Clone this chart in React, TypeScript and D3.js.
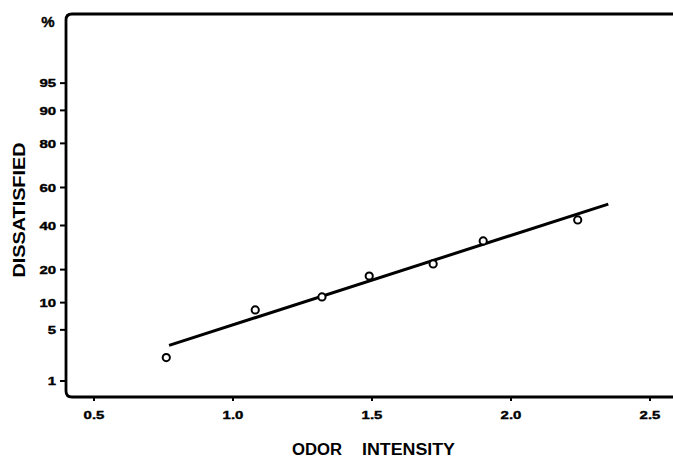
import React from "react";
import * as d3 from "d3";

const xTicks = [0.5, 1.0, 1.5, 2.0, 2.5];
const xTickLabels = ["0.5", "1.0", "1.5", "2.0", "2.5"];
const yTicks = [1, 5, 10, 20, 40, 60, 80, 90, 95];
const pointX = [0.76, 1.08, 1.32, 1.49, 1.72, 1.9, 2.24];
const pointPct = [2.2, 8.4, 11.4, 17.7, 22.2, 32.3, 42.9];
const lineX = [0.77, 2.35];
const linePct = [3.2, 51.3];

// inverse standard normal CDF (Acklam)
function probit(p: number): number {
  const a = [-3.969683028665376e1, 2.209460984245205e2, -2.759285104469687e2, 1.38357751867269e2, -3.066479806614716e1, 2.506628277459239];
  const b = [-5.447609879822406e1, 1.615858368580409e2, -1.556989798598866e2, 6.680131188771972e1, -1.328068155288572e1];
  const c = [-7.784894002430293e-3, -3.223964580411365e-1, -2.400758277161838, -2.549732539343734, 4.374664141464968, 2.938163982698783];
  const d = [7.784695709041462e-3, 3.224671290700398e-1, 2.445134137142996, 3.754408661907416];
  const pl = 0.02425;
  let q: number, r: number;
  if (p < pl) {
    q = Math.sqrt(-2 * Math.log(p));
    return (((((c[0] * q + c[1]) * q + c[2]) * q + c[3]) * q + c[4]) * q + c[5]) / ((((d[0] * q + d[1]) * q + d[2]) * q + d[3]) * q + 1);
  } else if (p <= 1 - pl) {
    q = p - 0.5;
    r = q * q;
    return ((((((a[0] * r + a[1]) * r + a[2]) * r + a[3]) * r + a[4]) * r + a[5]) * q) / (((((b[0] * r + b[1]) * r + b[2]) * r + b[3]) * r + b[4]) * r + 1);
  } else {
    q = Math.sqrt(-2 * Math.log(1 - p));
    return -(((((c[0] * q + c[1]) * q + c[2]) * q + c[3]) * q + c[4]) * q + c[5]) / ((((d[0] * q + d[1]) * q + d[2]) * q + d[3]) * q + 1);
  }
}

export default function App() {
  const W = 673, H = 462;
  const left = 66, top = 14, bottom = 397;
  const x = d3.scaleLinear().domain([0.4, 2.6]).range([66.2, 677.8]);
  const zScale = d3.scaleLinear().domain([-2.5, 2.5]).range([394, 19]);
  const y = (pct: number) => zScale(probit(pct / 100));
  const font = "'Liberation Sans', Arial, Helvetica, sans-serif";
  const r = 6;
  const frame = `M ${W} ${top} L ${left + r} ${top} Q ${left} ${top} ${left} ${top + r} L ${left} ${bottom - r} Q ${left} ${bottom} ${left + r} ${bottom} L ${W} ${bottom}`;
  const lineGen = d3.line<number>().x((v) => x(v)).y((_, i) => y(linePct[i]));
  return (
    <svg width={W} height={H} style={{ position: "absolute", left: 0, top: 0, background: "#fff" }} fontFamily={font}>
      <rect width={W} height={H} fill="#fff" />
      <path d={frame} fill="none" stroke="#000" strokeWidth={2.8} />
      {yTicks.map((t) => (
        <g key={t}>
          <line x1={left - 6} x2={left} y1={y(t)} y2={y(t)} stroke="#000" strokeWidth={2} />
          <g transform={`translate(${left - 10},${y(t)}) scale(1.3,1)`}>
            <text dy="0.36em" textAnchor="end" fontSize={11.5} fontWeight="bold" stroke="#000" strokeWidth={0.4}>{t}</text>
          </g>
        </g>
      ))}
      <text x={48} y={22} dy="0.36em" textAnchor="middle" fontSize={15} fontWeight="bold" stroke="#000" strokeWidth={0.4}>%</text>
      {xTicks.map((t, i) => (
        <g key={t}>
          <line x1={x(t)} x2={x(t)} y1={bottom} y2={bottom + 4} stroke="#000" strokeWidth={2} />
          <g transform={`translate(${x(t)},418.5) scale(1.3,1)`}>
            <text textAnchor="middle" fontSize={11.5} fontWeight="bold" stroke="#000" strokeWidth={0.4}>{xTickLabels[i]}</text>
          </g>
        </g>
      ))}
      <text x={292} y={455} fontSize={16} fontWeight="bold" textLength={50} lengthAdjust="spacingAndGlyphs">ODOR</text>
      <text x={362} y={455} fontSize={16} fontWeight="bold" textLength={93} lengthAdjust="spacingAndGlyphs">INTENSITY</text>
      <text transform="translate(25,210) rotate(-90)" textAnchor="middle" fontSize={17} fontWeight="bold" textLength={135} lengthAdjust="spacingAndGlyphs">DISSATISFIED</text>
      <path d={lineGen(lineX) || ""} fill="none" stroke="#000" strokeWidth={3} />
      {pointX.map((v, i) => (
        <circle key={i} cx={x(v)} cy={y(pointPct[i])} r={3.6} fill="#fff" stroke="#000" strokeWidth={2} />
      ))}
    </svg>
  );
}
